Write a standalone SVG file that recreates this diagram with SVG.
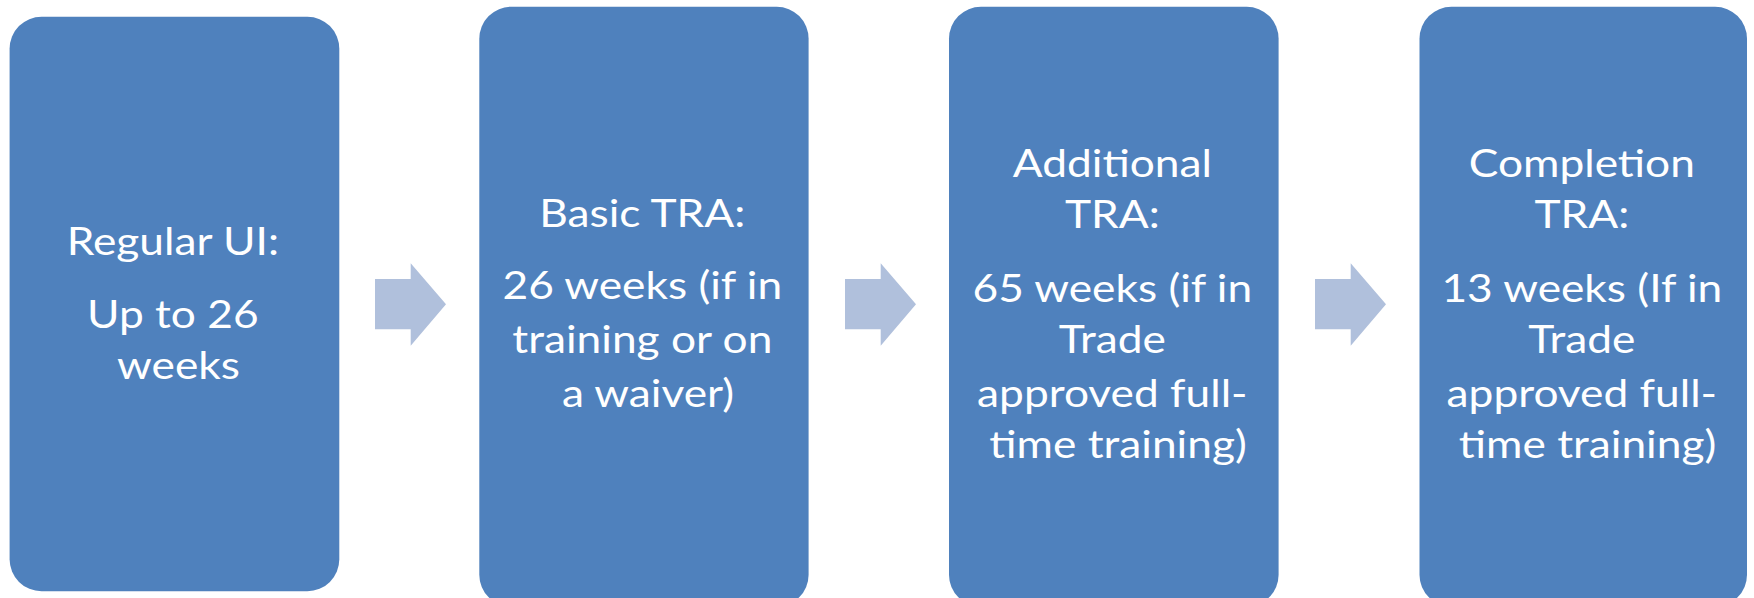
<svg xmlns="http://www.w3.org/2000/svg" width="1754" height="598" viewBox="0 0 1754 598">
  <style>
    .box { fill: #4F81BD; }
    .arrow { fill: #B0C0DC; }
    .label { font-family: "Lato", "Liberation Sans", sans-serif; font-size: 38.5px; fill: #FFFFFF; text-anchor: middle; }
  </style>
  <defs>
    <!-- block arrow shape, drawn at origin and placed by translate -->
    <path id="blockArrow" d="M0,15.7 H35.7 V0 L71,41 L35.7,82.4 V66 H0 Z"/>
  </defs>
  <rect width="1754" height="598" fill="#FFFFFF"/>

  <g id="connectors">
    <use href="#blockArrow" class="arrow" transform="translate(375,263.3)"/>
    <use href="#blockArrow" class="arrow" transform="translate(845,263.3)"/>
    <use href="#blockArrow" class="arrow" transform="translate(1315,263.3)"/>
  </g>

  <g id="regular-ui">
    <rect class="box" x="9.6" y="16.7" width="329.7" height="574.6" rx="32"/>
    <text class="label" transform="translate(178.5,0) scale(1.15,1)">
      <tspan x="0" y="255">Regular UI:</tspan>
      <tspan x="0" y="327.7">Up to 26</tspan>
      <tspan x="0" y="379.3">weeks</tspan>
    </text>
  </g>

  <g id="basic-tra">
    <rect class="box" x="479.3" y="6.7" width="329.3" height="600" rx="32"/>
    <text class="label" transform="translate(648,0) scale(1.15,1)">
      <tspan x="0" y="226.7">Basic TRA:</tspan>
      <tspan x="0" y="299.3">26 weeks (if in</tspan>
      <tspan x="0" y="353.3">training or on</tspan>
      <tspan x="0" y="406.7">a waiver)</tspan>
    </text>
  </g>

  <g id="additional-tra">
    <rect class="box" x="949" y="6.7" width="329.6" height="600" rx="32"/>
    <text class="label" transform="translate(1118,0) scale(1.15,1)">
      <tspan x="0" y="176.7">Additional</tspan>
      <tspan x="0" y="228.3">TRA:</tspan>
      <tspan x="0" y="301.7">65 weeks (if in</tspan>
      <tspan x="0" y="353.3">Trade</tspan>
      <tspan x="0" y="406.7">approved full-</tspan>
      <tspan x="0" y="458.3">time training)</tspan>
    </text>
  </g>

  <g id="completion-tra">
    <rect class="box" x="1419.5" y="6.7" width="327.5" height="600" rx="32"/>
    <text class="label" transform="translate(1587.5,0) scale(1.15,1)">
      <tspan x="0" y="176.7">Completion</tspan>
      <tspan x="0" y="228.3">TRA:</tspan>
      <tspan x="0" y="301.7">13 weeks (If in</tspan>
      <tspan x="0" y="353.3">Trade</tspan>
      <tspan x="0" y="406.7">approved full-</tspan>
      <tspan x="0" y="458.3">time training)</tspan>
    </text>
  </g>
</svg>
